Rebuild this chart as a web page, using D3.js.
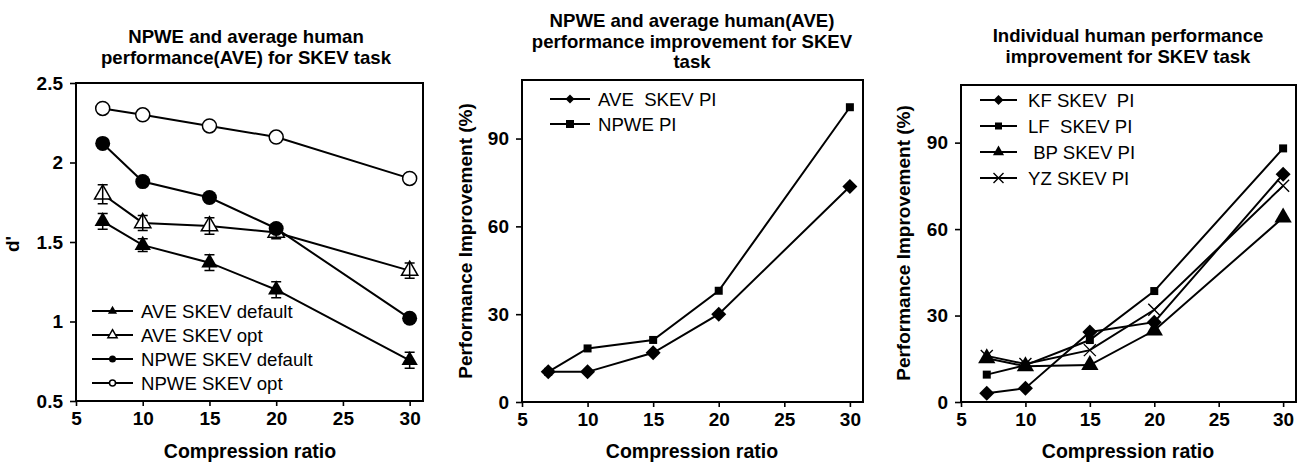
<!DOCTYPE html>
<html>
<head>
<meta charset="utf-8">
<script src="https://cdn.jsdelivr.net/npm/d3@7/dist/d3.min.js"></script>
<style>
  body { margin: 0; background: #fff; }
  svg text { font-family: "Liberation Sans", Arial, sans-serif; fill: #000; }
</style>
</head>
<body>
<svg id="chart" width="1299" height="464"></svg>
<script>
// compression ratios shared by all panels
var ratios = [7, 10, 15, 20, 30];
var xTicks = [5, 10, 15, 20, 25, 30];

// panel 1: d'
var aveDefault = [1.63, 1.48, 1.37, 1.20, 0.756];
var aveDefaultErr = [0.05, 0.04, 0.05, 0.05, 0.05];
var aveOpt = [1.80, 1.62, 1.60, 1.56, 1.32];
var aveOptErr = [0.06, 0.047, 0.052, 0.04, 0.048];
var npweDefault = [2.12, 1.88, 1.78, 1.585, 1.02];
var npweOpt = [2.34, 2.30, 2.23, 2.16, 1.90];
var dTicks = [0.5, 1, 1.5, 2, 2.5];

// panel 2: performance improvement (%)
var aveSkevPI = [10.3, 10.3, 16.8, 30.0, 73.6];
var npwePI = [10.3, 18.3, 21.2, 38.0, 100.7];

// panel 3: individual observers (%)
var kfPI = [3.0, 4.8, 24.3, 27.7, 79.0];
var lfPI = [9.5, 12.8, 21.5, 38.5, 88.0];
var bpPI = [15.2, 12.4, 12.8, 24.8, 64.0];
var yzPI = [16.0, 13.2, 18.0, 32.0, 75.0];
var piTicks = [0, 30, 60, 90];

var svg = d3.select("#chart");
var FONT = 18.6;

function marker(g, type, x, y, s) {
  var t;
  if (type == "tri" || type == "otri") {
    t = g.append("path").attr("d", d3.symbol().type(d3.symbolTriangle).size(s * s * 0.45)())
      .attr("transform", "translate(" + x + "," + y + ")");
  } else if (type == "dot" || type == "odot") {
    t = g.append("circle").attr("cx", x).attr("cy", y).attr("r", s / 2);
  } else if (type == "dia") {
    t = g.append("rect").attr("x", -s / 2.83).attr("y", -s / 2.83).attr("width", s / 1.414).attr("height", s / 1.414)
      .attr("transform", "translate(" + x + "," + y + ") rotate(45)");
  } else if (type == "sq") {
    t = g.append("rect").attr("x", x - s / 2).attr("y", y - s / 2).attr("width", s).attr("height", s);
  } else if (type == "x") {
    t = g.append("path").attr("d", "M" + (x - s / 2) + "," + (y - s / 2) + "L" + (x + s / 2) + "," + (y + s / 2) +
      "M" + (x - s / 2) + "," + (y + s / 2) + "L" + (x + s / 2) + "," + (y - s / 2));
    t.attr("fill", "none").attr("stroke", "#000").attr("stroke-width", 1.4);
    return t;
  }
  if (type == "otri" || type == "odot") {
    t.attr("fill", "#fff").attr("stroke", "#000").attr("stroke-width", 1.5);
  } else {
    t.attr("fill", "#000");
  }
  return t;
}

function panel(cfg) {
  var g = svg.append("g");
  var x = d3.scaleLinear().domain([5, 31]).range([cfg.left, cfg.right]);
  var y = d3.scaleLinear().domain(cfg.yDomain).range([cfg.bottom, cfg.top]);

  // titles
  cfg.title.forEach(function(line, i) {
    g.append("text").attr("x", cfg.titleX).attr("y", cfg.titleY + i * 20.5)
      .attr("text-anchor", "middle").attr("font-weight", "bold").attr("font-size", FONT).text(line);
  });

  // axes
  var xAxis = d3.axisBottom(x).tickValues(xTicks).tickSize(5).tickPadding(6).tickFormat(d3.format("d"));
  var yAxis = d3.axisLeft(y).tickValues(cfg.yTicks).tickSize(6).tickPadding(7).tickFormat(cfg.yFormat);
  var gx = g.append("g").attr("transform", "translate(0," + cfg.bottom + ")").call(xAxis);
  var gy = g.append("g").attr("transform", "translate(" + cfg.left + ",0)").call(yAxis);
  [gx, gy].forEach(function(a) {
    a.select(".domain").remove();
    a.selectAll("line").attr("stroke", "#000").attr("stroke-width", 1.6);
    a.selectAll("text").attr("font-size", 19).attr("font-weight", "bold")
      .attr("font-family", "'Liberation Sans', Arial, sans-serif");
  });

  g.append("rect").attr("x", cfg.left).attr("y", cfg.top)
    .attr("width", cfg.right - cfg.left).attr("height", cfg.bottom - cfg.top)
    .attr("fill", "none").attr("stroke", "#000").attr("stroke-width", 2);

  g.append("text").attr("x", cfg.xLabelX).attr("y", 458).attr("text-anchor", "middle")
    .attr("font-weight", "bold").attr("font-size", 19.5).text("Compression ratio");
  g.append("text").attr("transform", "translate(" + cfg.yLabelX + "," + cfg.yLabelY + ") rotate(-90)")
    .attr("text-anchor", "middle").attr("font-weight", "bold").attr("font-size", 19).text(cfg.yLabel);

  var line = d3.line().x(function(d) { return x(d[0]); }).y(function(d) { return y(d[1]); });

  cfg.series.forEach(function(s) {
    var pts = ratios.map(function(r, i) { return [r, s.values[i]]; });
    g.append("path").datum(pts).attr("d", line)
      .attr("fill", "none").attr("stroke", "#000").attr("stroke-width", 2);
    pts.forEach(function(p) {
      marker(g, s.type, x(p[0]), y(p[1]), s.size);
    });
    if (s.err) {
      pts.forEach(function(p, i) {
        var cx = x(p[0]), y1 = y(p[1] + s.err[i]), y0 = y(p[1] - s.err[i]);
        g.append("path").attr("d", "M" + cx + "," + y0 + "V" + y1 + "M" + (cx - 5) + "," + y1 + "H" + (cx + 5) +
          "M" + (cx - 5) + "," + y0 + "H" + (cx + 5))
          .attr("fill", "none").attr("stroke", "#000").attr("stroke-width", 1.5);
      });
    }
  });

  // legend
  cfg.series.forEach(function(s, i) {
    var ly = cfg.legend.y + i * cfg.legend.step;
    g.append("line").attr("x1", cfg.legend.x1).attr("x2", cfg.legend.x2).attr("y1", ly).attr("y2", ly)
      .attr("stroke", "#000").attr("stroke-width", 2);
    marker(g, s.type, (cfg.legend.x1 + cfg.legend.x2) / 2, ly, s.legendSize);
    g.append("text").attr("x", cfg.legend.tx).attr("y", ly + 6.5).attr("font-size", FONT)
      .attr("xml:space", "preserve").style("white-space", "pre").text(s.name);
  });
}

panel({
  left: 76, right: 423, top: 83, bottom: 401,
  yDomain: [0.5, 2.5], yTicks: dTicks, yFormat: d3.format("~g"),
  title: ["NPWE and average human", "performance(AVE) for SKEV task"], titleX: 246, titleY: 43,
  xLabelX: 250, yLabel: "d'", yLabelX: 19, yLabelY: 244,
  legend: { x1: 92, x2: 133, tx: 141, y: 311, step: 24 },
  series: [
    { name: "AVE SKEV default", values: aveDefault, err: aveDefaultErr, type: "tri", size: 16, legendSize: 9 },
    { name: "AVE SKEV opt", values: aveOpt, err: aveOptErr, type: "otri", size: 16, legendSize: 9 },
    { name: "NPWE SKEV default", values: npweDefault, type: "dot", size: 15, legendSize: 7 },
    { name: "NPWE SKEV opt", values: npweOpt, type: "odot", size: 14, legendSize: 6 }
  ]
});

panel({
  left: 522, right: 863, top: 80, bottom: 402,
  yDomain: [0, 110], yTicks: piTicks, yFormat: d3.format("d"),
  title: ["NPWE and average human(AVE)", "performance improvement for SKEV", "task"], titleX: 692, titleY: 27,
  xLabelX: 692, yLabel: "Performance Improvement (%)", yLabelX: 472, yLabelY: 241,
  legend: { x1: 550, x2: 590, tx: 598, y: 99, step: 25 },
  series: [
    { name: "AVE  SKEV PI", values: aveSkevPI, type: "dia", size: 15, legendSize: 9 },
    { name: "NPWE PI", values: npwePI, type: "sq", size: 8, legendSize: 8 }
  ]
});

panel({
  left: 961, right: 1296, top: 85, bottom: 402,
  yDomain: [0, 110], yTicks: piTicks, yFormat: d3.format("d"),
  title: ["Individual human performance", "improvement for SKEV task"], titleX: 1128, titleY: 42,
  xLabelX: 1128, yLabel: "Performance Improvement (%)", yLabelX: 910, yLabelY: 243,
  legend: { x1: 980, x2: 1017, tx: 1028, y: 100, step: 26 },
  series: [
    { name: "KF SKEV  PI", values: kfPI, type: "dia", size: 15, legendSize: 10 },
    { name: "LF  SKEV PI", values: lfPI, type: "sq", size: 8, legendSize: 7 },
    { name: " BP SKEV PI", values: bpPI, type: "tri", size: 17, legendSize: 11 },
    { name: "YZ SKEV PI", values: yzPI, type: "x", size: 12, legendSize: 10 }
  ]
});
</script>
</body>
</html>
